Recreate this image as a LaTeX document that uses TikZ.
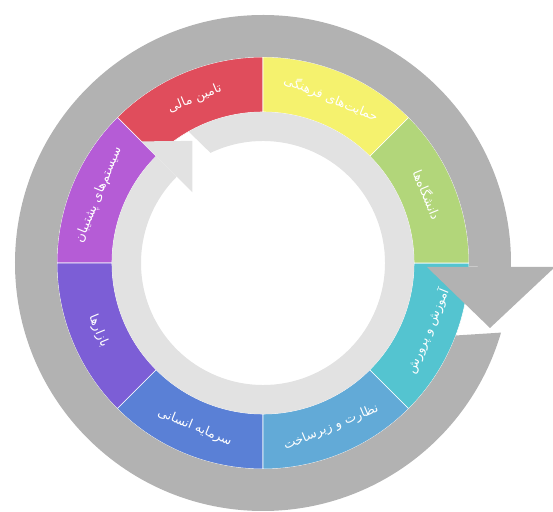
\documentclass[tikz,border=0pt]{standalone}
\usepackage{fontspec}
\newfontfamily\farsifont[Script=Arabic]{DejaVu Sans}
\TeXXeTstate=1
\usepackage{tikz}
\usepackage{xcolor}
\definecolor{ringgray}{RGB}{178,178,178}
\definecolor{ringlight}{RGB}{226,226,226}
\definecolor{segred}{RGB}{224,77,92}
\definecolor{segyellow}{RGB}{245,242,110}
\definecolor{seggreen}{RGB}{178,214,122}
\definecolor{segteal}{RGB}{84,196,208}
\definecolor{segblue}{RGB}{98,170,215}
\definecolor{segindigo}{RGB}{90,128,214}
\definecolor{segviolet}{RGB}{124,94,214}
\definecolor{segmagenta}{RGB}{181,92,214}
\tikzstyle{cycle}=[
  x=0.025cm,y=0.025cm
]
\tikzstyle{sector}=[
  draw=white,line width=0.4pt
]
\tikzstyle{seglabel}=[
  text=white,inner sep=1pt,font=\farsifont\fontsize{9}{10}\selectfont
]

\begin{document}
\begin{tikzpicture}[cycle]
    \useasboundingbox (-263,-249) rectangle (290,263);
    % coloured ring
    \foreach \a/\c/\r/\n/\t in {
        90/segred/22.5/tamin/{تامین مالی},
        135/segmagenta/67.5/systems/{سیستم^^^^200cهای پشتیبان},
        180/segviolet/-67.5/bazar/{بازارها},
        225/segindigo/-22.5/sarmaye/{سرمایه انسانی},
        270/segblue/22.5/nezarat/{نظارت و زیرساخت},
        315/segteal/67.5/amoozesh/{آموزش و پرورش},
        0/seggreen/-67.5/daneshgah/{دانشگاه^^^^200cها},
        45/segyellow/-22.5/hemayat/{حمایت^^^^200cهای فرهنگی}}
    {
      \fill[\c,sector] (\a:206) arc[start angle=\a, end angle=\a+45, radius=206]
        -- ({\a+45}:151) arc[start angle=\a+45, end angle=\a, radius=151] -- cycle;
      \node[seglabel,rotate=\r] (\n) at ({\a+22.5}:178) {\beginR\t\endR};
    }
    % inner arrow
    \fill[ringlight] (135:151) arc[start angle=135, end angle=479.5, radius=151]
      -- (475.5:122) arc[start angle=475.5, end angle=135, radius=122] -- cycle;
    \fill[ringlight] (135:100) -- (135:172) -- (120:141) -- cycle;
    % outer arrow
    \fill[ringgray] (-1:248) arc[start angle=-1, end angle=343.7, radius=248]
      -- (339.4:206) arc[start angle=339.4, end angle=-1, radius=206] -- cycle;
    \fill[ringgray] (164,-4) -- (292,-4) -- (227,-65) -- cycle;
\end{tikzpicture}
\end{document}
